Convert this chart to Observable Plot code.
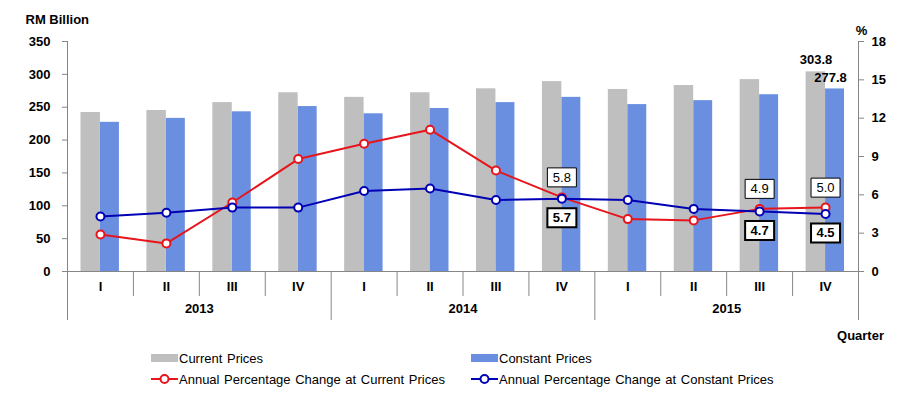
<!DOCTYPE html>
<html><head><meta charset="utf-8">
<script src="https://cdn.jsdelivr.net/npm/d3@7"></script>
<script src="https://cdn.jsdelivr.net/npm/@observablehq/plot@0.6"></script>
<style>
body{margin:0;background:#fff;font-family:"Liberation Sans",Arial,sans-serif;}
#wrap{position:relative;width:912px;height:397px;overflow:hidden;}
#chart svg{display:block;}
.lt{position:absolute;font-size:13px;line-height:15px;white-space:nowrap;color:#000;word-spacing:1px;}
.sw{position:absolute;width:27px;height:8px;}
.ls{position:absolute;width:28px;height:12px;}
</style></head><body>
<div id="wrap"><div id="chart"></div><div id="legend"></div></div>
<script>
const years = [2013, 2014, 2015];
const quarters = ["I", "II", "III", "IV"];
const currentPrices  = [242, 245, 257, 272, 265, 272, 278, 289, 277, 283, 292, 303.8];
const constantPrices = [227, 233, 243, 251, 240, 248, 257, 265, 254, 260, 269, 277.8];
const pctCurrent  = [2.9, 2.2, 5.4, 8.8, 10.0, 11.1, 7.9, 5.8, 4.1, 4.0, 4.9, 5.0];
const pctConstant = [4.3, 4.6, 5.0, 5.0, 6.3, 6.5, 5.6, 5.7, 5.6, 4.9, 4.7, 4.5];
const leftTicks = [0, 50, 100, 150, 200, 250, 300, 350];
const rightTicks = [0, 3, 6, 9, 12, 15, 18];
const labelledQuarters = ["2014 IV", "2015 III", "2015 IV"];
const valueLabelQuarter = "2015 IV";
const seriesNames = ["Current Prices", "Constant Prices",
  "Annual Percentage Change at Current Prices", "Annual Percentage Change at Constant Prices"];

const GRAY = "#bfbfbf", BLUEBAR = "#6a8fe0", RED = "#e8141c", NAVY = "#0000b4", AXIS = "#868686";
const k = 350 / 18; // right-axis (%) to left-axis units

const keys = years.flatMap(y => quarters.map(q => `${y} ${q}`));
const rows = keys.map((key, i) => ({
  key, cur: currentPrices[i], con: constantPrices[i],
  pcv: pctCurrent[i], pkv: pctConstant[i],
  pc: pctCurrent[i] * k, pk: pctConstant[i] * k
}));
const labelRows = rows.filter(r => labelledQuarters.includes(r.key));
const lastRow = rows.filter(r => r.key === valueLabelQuarter);
const half = 791 / 24;
const box = {draw(ctx) { ctx.rect(-14.5, -9.5, 29, 19); }};

const chart = Plot.plot({
  width: 912, height: 345,
  marginLeft: 67, marginRight: 54, marginTop: 41, marginBottom: 74,
  x: {type: "band", domain: keys, paddingInner: 0, paddingOuter: 0, round: false, axis: null},
  y: {domain: [0, 350], axis: null},
  style: {fontFamily: "Liberation Sans, Arial, sans-serif", fontSize: "13px", color: "#000", background: "#fff", overflow: "visible"},
  marks: [
    Plot.barY(rows, {x: "key", y: "cur", fill: GRAY, insetLeft: 13.5, insetRight: 33}),
    Plot.barY(rows, {x: "key", y: "con", fill: BLUEBAR, insetLeft: 33, insetRight: 14}),
    Plot.ruleY([0], {stroke: AXIS}),
    Plot.frame({anchor: "left", stroke: AXIS}),
    Plot.frame({anchor: "right", stroke: AXIS}),
    Plot.axisY({ticks: leftTicks, tickSize: 5, tickPadding: 12, fontWeight: "bold", stroke: AXIS, fill: "#000", label: null}),
    Plot.axisY({anchor: "right", ticks: rightTicks.map(v => v * k), tickFormat: v => String(Math.round(v / k)),
      tickSize: 5, tickPadding: 8, fontWeight: "bold", stroke: AXIS, fill: "#000", label: null}),
    Plot.axisX({tickSize: 0, tickPadding: 10, tickFormat: d => d.split(" ")[1], fontWeight: "bold", fill: "#000", label: null}),
    Plot.axisX({ticks: keys.filter(d => !d.endsWith(" I")), tickSize: 25, dx: -half, tickFormat: () => "", stroke: AXIS, label: null}),
    Plot.axisX({ticks: keys.filter(d => d.endsWith(" I")), tickSize: 49, dx: -half, tickFormat: () => "", stroke: AXIS, label: null}),
    Plot.axisX({ticks: [keys[keys.length - 1]], tickSize: 49, dx: half, tickFormat: () => "", stroke: AXIS, label: null}),
    Plot.text(years, {x: y => `${y} II`, text: y => String(y), frameAnchor: "bottom", dx: half, dy: 41, fontWeight: "bold"}),
    Plot.text(["Quarter"], {frameAnchor: "bottom-right", textAnchor: "middle", dx: 2, dy: 68, fontWeight: "bold"}),
    Plot.text(["RM Billion"], {frameAnchor: "top-left", textAnchor: "start", dx: -42, dy: -27, fontWeight: "bold"}),
    Plot.text(["%"], {frameAnchor: "top-right", textAnchor: "middle", dx: 3, dy: -16, fontWeight: "bold"}),
    Plot.line(rows, {x: "key", y: "pc", stroke: RED, strokeWidth: 2}),
    Plot.dot(rows, {x: "key", y: "pc", r: 4, fill: "white", stroke: RED, strokeWidth: 2}),
    Plot.line(rows, {x: "key", y: "pk", stroke: NAVY, strokeWidth: 2}),
    Plot.dot(rows, {x: "key", y: "pk", r: 4, fill: "white", stroke: NAVY, strokeWidth: 2}),
    Plot.dot(labelRows, {x: "key", y: "pc", dy: -20, symbol: box, fill: "white", stroke: "#000", strokeWidth: 1}),
    Plot.text(labelRows, {x: "key", y: "pc", dy: -20, text: d => d.pcv.toFixed(1)}),
    Plot.dot(labelRows, {x: "key", y: "pk", dy: 19, symbol: box, fill: "white", stroke: "#000", strokeWidth: 2}),
    Plot.text(labelRows, {x: "key", y: "pk", dy: 19, text: d => d.pkv.toFixed(1), fontWeight: "bold"}),
    Plot.text(lastRow, {x: "key", y: "cur", dx: -9.5, dy: -12, text: d => d.cur.toFixed(1), fontWeight: "bold"}),
    Plot.text(lastRow, {x: "key", y: "con", dx: 5, dy: -11.5, text: d => d.con.toFixed(1), fontWeight: "bold"})
  ]
});
document.getElementById("chart").append(chart);

const leg = document.getElementById("legend");
const items = [
  {x: 151, y: 358, type: "bar", color: GRAY, name: seriesNames[0]},
  {x: 471, y: 358, type: "bar", color: BLUEBAR, name: seriesNames[1]},
  {x: 151, y: 379, type: "line", color: RED, name: seriesNames[2]},
  {x: 471, y: 379, type: "line", color: NAVY, name: seriesNames[3]}
];
for (const it of items) {
  if (it.type === "bar") {
    const s = document.createElement("div");
    s.className = "sw"; s.style.left = it.x + "px"; s.style.top = (it.y - 4) + "px"; s.style.background = it.color;
    leg.append(s);
  } else {
    const ns = "http://www.w3.org/2000/svg";
    const s = document.createElementNS(ns, "svg");
    s.setAttribute("class", "ls"); s.setAttribute("width", 28); s.setAttribute("height", 12);
    s.style.left = it.x + "px"; s.style.top = (it.y - 6) + "px";
    s.innerHTML = `<line x1="0" x2="27" y1="6" y2="6" stroke="${it.color}" stroke-width="2"/><circle cx="13.5" cy="6" r="4" fill="white" stroke="${it.color}" stroke-width="2"/>`;
    leg.append(s);
  }
  const t = document.createElement("div");
  t.className = "lt"; t.style.left = (it.x + 28) + "px"; t.style.top = (it.y - 7.5) + "px";
  t.textContent = it.name;
  leg.append(t);
}
</script>
</body></html>
